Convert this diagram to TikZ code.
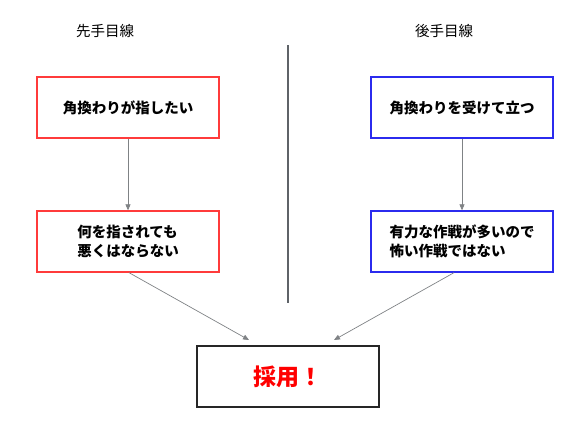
\documentclass[tikz,border=0pt]{standalone}
\usepackage{fontspec}
\setmainfont{Noto Sans CJK JP}
\usetikzlibrary{arrows.meta}
\definecolor{redb}{HTML}{FF3B3B}
\definecolor{blueb}{HTML}{2B2BEE}
\definecolor{arrowgray}{HTML}{7F8285}
\definecolor{divgray}{HTML}{5F6368}
\tikzset{
  redbox/.style={draw=redb, line width=1.3pt, minimum width=182pt, minimum height=61pt, inner sep=0pt, font=\fontsize{14.5pt}{19pt}\selectfont\bfseries, align=left},
  bluebox/.style={redbox, draw=blueb},
  finalbox/.style={draw=black!85, line width=1.6pt, minimum width=182pt, minimum height=61pt, inner sep=0pt, text=red, font=\fontsize{23pt}{26pt}\selectfont\bfseries},
  title/.style={font=\fontsize{14.5pt}{17pt}\selectfont},
  conn/.style={draw=arrowgray, line width=0.7pt, -{Triangle[length=6pt,width=5pt]}},
}
\begin{document}
\begin{tikzpicture}[x=1pt,y=-1pt]
\useasboundingbox (0,0) rectangle (583,445);
\node[title] (t1) at (105,31) {先手目線};
\node[title] (t2) at (444,31) {後手目線};
\coordinate (vtop) at (288,45);
\coordinate (vbot) at (288,303);
\draw[divgray, line width=2.6pt] (vtop) -- (vbot);
\node[redbox] (l1) at (128,107.5) {角換わりが指したい};
\node[redbox] (l2) at (128,241.5) {何を指されても\\悪くはならない};
\node[bluebox] (r1) at (462,107.5) {角換わりを受けて立つ};
\node[bluebox] (r2) at (462,241.5) {有力な作戦が多いので\\怖い作戦ではない};
\node[finalbox] (f) at (288,376.5) {採用！};
\coordinate (fl) at (249,340);
\coordinate (fr) at (334,340);
\draw[conn] (l1) -- (l2);
\draw[conn] (r1) -- (r2);
\draw[conn] (l2.south) ++(1,0) -- (fl);
\draw[conn] (r2.south) ++(-8,0) -- (fr);
\end{tikzpicture}
\end{document}
